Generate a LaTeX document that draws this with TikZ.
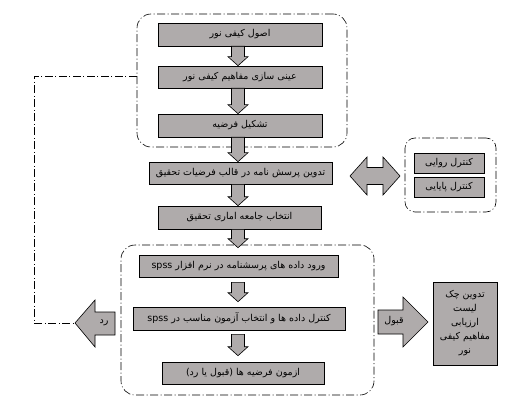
\documentclass[tikz,border=0pt]{standalone}
\usepackage{fontspec}
\newfontfamily\fa[Script=Arabic]{DejaVu Sans}
\TeXXeTstate=1
\usetikzlibrary{calc}
\definecolor{boxgray}{RGB}{175,171,171}
\newcommand{\rtl}[1]{{\fa\beginR #1\endR}}
\newcommand{\dnarrow}[4]{%
  \draw[blk] let \p1=(#1.south), \p2=(#2.north) in
    (231.5pt,\y1-#3) -- (244.5pt,\y1-#3) -- (244.5pt,\y2+#4+9pt) -- (248pt,\y2+#4+9pt)
    -- (238pt,\y2+#4) -- (228pt,\y2+#4+9pt) -- (231.5pt,\y2+#4+9pt) -- cycle;}
\begin{document}
\begin{tikzpicture}[x=1pt,y=-1pt,
  box/.style={draw=black, fill=boxgray, line width=0.6pt, inner sep=0pt,
    font=\fa\fontsize{9.5}{11}\selectfont},
  grp/.style={draw=black, line width=0.6pt, rounded corners=14pt,
    dash pattern=on 8pt off 2.5pt on 1pt off 2.5pt},
  dd/.style={draw=black, line width=0.6pt, dash pattern=on 8pt off 2.5pt on 1pt off 2.5pt},
  blk/.style={draw=black, fill=boxgray, line width=0.6pt, line join=miter},
  lbl/.style={font=\fa\fontsize{9.5}{11}\selectfont, inner sep=0pt}]
\useasboundingbox (0,0) rectangle (513,406);
\fill[white] (0,0) rectangle (513,406);
% groups
\node[grp, minimum width=210pt, minimum height=133pt] (g1) at (242,80.5) {};
\node[grp, minimum width=253pt, minimum height=150pt] (g2) at (247.5,320) {};
\node[grp, minimum width=91pt, minimum height=74pt, rounded corners=10pt] (g3) at (450.5,175) {};
% boxes
\node[box, minimum width=164pt, minimum height=23pt] (b1) at (240,34.5) {\rtl{اصول کیفی نور}};
\node[box, minimum width=164pt, minimum height=22pt] (b2) at (240,77) {\rtl{عینی سازی مفاهیم کیفی نور}};
\node[box, minimum width=164pt, minimum height=23pt] (b3) at (240,125.5) {\rtl{تشکیل فرضیه}};
\node[box, minimum width=183pt, minimum height=22pt] (b4) at (240.5,173) {\rtl{تدوین پرسش نامه در قالب فرضیات تحقیق}};
\node[box, minimum width=163pt, minimum height=23pt] (b5) at (239.5,217.5) {\rtl{انتخاب جامعه اماری تحقیق}};
\node[box, minimum width=199pt, minimum height=22pt] (b6) at (238.5,266) {\rtl{ورود داده های پرسشنامه در نرم افزار \beginL spss\endL}};
\node[box, minimum width=212pt, minimum height=23pt] (b7) at (239,318.5) {\rtl{کنترل داده ها و انتخاب آزمون مناسب در \beginL spss\endL}};
\node[box, minimum width=162pt, minimum height=22pt] (b8) at (243,373) {\rtl{ازمون فرضیه ها (قبول یا رد)}};
\node[box, minimum width=70pt, minimum height=20pt] (r1) at (449,163) {\rtl{کنترل روایی}};
\node[box, minimum width=70pt, minimum height=20pt] (r2) at (449,187) {\rtl{کنترل پایایی}};
\node[box, minimum width=64pt, minimum height=83pt, align=center,
  font=\fa\fontsize{9.5}{14}\selectfont] (cl) at (465,323.5)
  {\rtl{تدوین چک}\\\rtl{لیست}\\\rtl{ارزیابی}\\\rtl{مفاهیم کیفی}\\\rtl{نور}};
% down arrows
\dnarrow{b1}{b2}{0pt}{0pt}
\dnarrow{b2}{b3}{0pt}{0pt}
\dnarrow{b3}{b4}{0pt}{0pt}
\dnarrow{b4}{b5}{0pt}{0pt}
\dnarrow{b5}{b6}{0pt}{7pt}
\dnarrow{b6}{b7}{5pt}{5pt}
\dnarrow{b7}{b8}{4pt}{6pt}
% double arrow
\draw[blk] (350,176) -- (367,157) -- (367,167.5) -- (383,167.5) -- (383,157) -- (400,176)
  -- (383,195) -- (383,184.5) -- (367,184.5) -- (367,195) -- cycle;
% accept arrow
\draw[blk] (378,310) -- (403,310) -- (403,297) -- (428,322) -- (403,347) -- (403,334) -- (378,334) -- cycle;
\node[lbl] (acc) at (394,321) {\rtl{قبول}};
% reject arrow
\coordinate (rtip) at (75,323);
\draw[blk] (rtip) -- (95,300) -- (95,312) -- (115,312) -- (115,335) -- (95,335) -- (95,347) -- cycle;
\node[lbl] (rej) at (104,323) {\rtl{رد}};
% feedback line
\draw[dd] (g1.west |- 0,76) -- (34,76) |- (rtip);
\end{tikzpicture}
\end{document}
